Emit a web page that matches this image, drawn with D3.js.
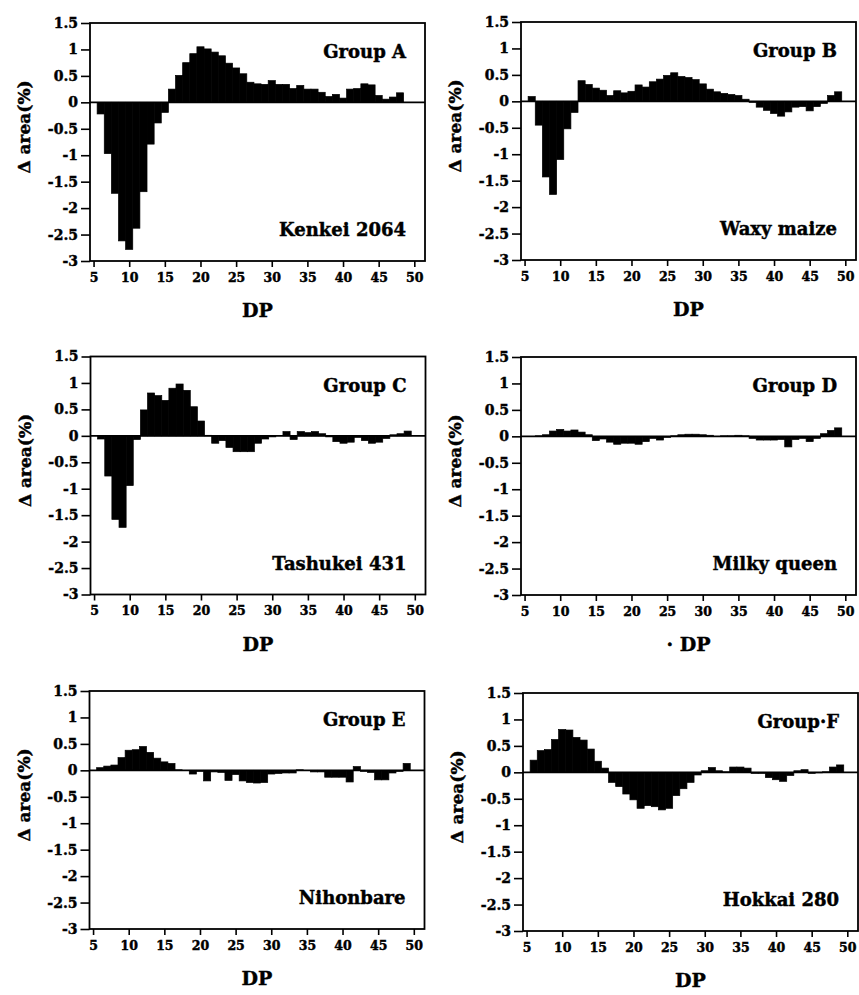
<!DOCTYPE html>
<html>
<head>
<meta charset="utf-8">
<script src="https://cdn.jsdelivr.net/npm/d3@7"></script>
<style>
  body { margin: 0; background: #fff; }
  svg text { font-family: "DejaVu Serif", serif; font-weight: bold; fill: #000; stroke: #000; stroke-width: 0.45px; }
</style>
</head>
<body>
<svg id="chart" width="859" height="995"></svg>
<script>
// DP 6..49
const dpValues = d3.range(6, 50);
const xTicks = [5, 10, 15, 20, 25, 30, 35, 40, 45, 50];
const yTicks = [1.5, 1, 0.5, 0, -0.5, -1, -1.5, -2, -2.5, -3];

const groupNames = ['Group A', 'Group B', 'Group C', 'Group D', 'Group E', 'Group·F'];
const varieties = ['Kenkei 2064', 'Waxy maize', 'Tashukei 431', 'Milky queen', 'Nihonbare', 'Hokkai 280'];
const xTitles = ['DP', 'DP', 'DP', '· DP', 'DP', 'DP'];

const groupA = [-0.22, -0.97, -1.72, -2.62, -2.78, -2.38, -1.69, -0.79, -0.39, -0.19,
  0.25, 0.51, 0.75, 0.92, 1.05, 1.01, 0.95, 0.88, 0.74, 0.65,
  0.54, 0.38, 0.35, 0.34, 0.41, 0.34, 0.34, 0.26, 0.32, 0.25,
  0.25, 0.19, 0.11, 0.15, 0.08, 0.25, 0.26, 0.35, 0.33, 0.13,
  0.06, 0.10, 0.18, null];
const groupB = [0.09, -0.45, -1.43, -1.76, -1.10, -0.52, -0.21, 0.39, 0.32, 0.25,
  0.21, 0.11, 0.20, 0.16, 0.19, 0.31, 0.27, 0.37, 0.42, 0.49,
  0.54, 0.47, 0.45, 0.41, 0.33, 0.23, 0.18, 0.15, 0.13, 0.11,
  0.04, -0.02, -0.11, -0.17, -0.23, -0.28, -0.20, -0.11, -0.10, -0.18,
  -0.10, -0.04, 0.11, 0.18];
const groupC = [-0.06, -0.76, -1.58, -1.73, -0.94, -0.07, 0.49, 0.81, 0.76, 0.67,
  0.90, 0.98, 0.86, 0.55, 0.28, 0.01, -0.14, -0.09, -0.22, -0.30,
  -0.30, -0.30, -0.14, -0.06, -0.02, 0.00, 0.08, -0.07, 0.08, 0.06,
  0.08, 0.04, -0.02, -0.11, -0.14, -0.12, -0.03, -0.09, -0.14, -0.12,
  -0.05, 0.02, 0.04, 0.09];
const groupD = [0.00, 0.01, 0.03, 0.10, 0.13, 0.10, 0.12, 0.08, 0.03, -0.08,
  -0.05, -0.11, -0.15, -0.13, -0.13, -0.15, -0.10, -0.04, -0.07, -0.02,
  0.01, 0.03, 0.04, 0.04, 0.03, 0.02, 0.00, 0.01, 0.01, 0.02,
  0.01, -0.04, -0.07, -0.07, -0.07, -0.06, -0.20, -0.06, -0.04, -0.10,
  -0.04, 0.05, 0.11, 0.16];
const groupE = [0.05, 0.08, 0.10, 0.24, 0.38, 0.39, 0.45, 0.34, 0.23, 0.16,
  0.13, 0.01, 0.00, -0.07, -0.02, -0.20, -0.03, -0.04, -0.19, -0.08,
  -0.20, -0.23, -0.24, -0.23, -0.07, -0.06, -0.05, -0.05, 0.01, 0.00,
  -0.03, -0.03, -0.13, -0.13, -0.13, -0.22, 0.07, -0.02, -0.04, -0.18,
  -0.18, -0.05, -0.02, 0.13];
const groupF = [0.23, 0.41, 0.43, 0.62, 0.81, 0.80, 0.66, 0.61, 0.44, 0.21,
  0.08, -0.19, -0.27, -0.41, -0.52, -0.68, -0.63, -0.65, -0.71, -0.68,
  -0.44, -0.31, -0.19, -0.05, 0.03, 0.09, 0.03, 0.01, 0.10, 0.10,
  0.08, -0.02, -0.02, -0.10, -0.14, -0.17, -0.06, 0.03, 0.05, -0.02,
  -0.01, 0.01, 0.10, 0.14];

const series = [groupA, groupB, groupC, groupD, groupE, groupF];

// panel frames (left, top)
const panelPos = [[90, 23], [521, 22], [90.5, 356.5], [521, 357], [89.5, 691], [523, 693]];
const w = 335, h = 238;

const svg = d3.select('#chart');

const x = d3.scaleLinear().domain([4.5, 51.5]).range([0, w]);
const y = d3.scaleLinear().domain([-3, 1.5]).range([h, 0]);

series.forEach((vals, i) => {
  const g = svg.append('g').attr('transform', `translate(${panelPos[i][0]},${panelPos[i][1]})`);

  const data = dpValues.map((d, j) => ({ dp: d, v: vals[j] })).filter(d => d.v != null);

  g.selectAll('rect.bar')
    .data(data)
    .enter()
    .append('rect')
    .attr('class', 'bar')
    .attr('x', d => x(d.dp - 0.5))
    .attr('width', d => x(d.dp + 0.5) - x(d.dp - 0.5))
    .attr('y', d => y(Math.max(0, d.v)))
    .attr('height', d => Math.abs(y(d.v) - y(0)))
    .attr('fill', '#000')
    .attr('stroke', '#000')
    .attr('stroke-width', 0.7);

  // zero line
  g.append('line')
    .attr('x1', 0).attr('x2', w)
    .attr('y1', y(0)).attr('y2', y(0))
    .attr('stroke', '#000').attr('stroke-width', 1.6);

  // frame
  g.append('rect')
    .attr('width', w).attr('height', h)
    .attr('fill', 'none').attr('stroke', '#000').attr('stroke-width', 1.8);

  const yAxis = g.append('g')
    .call(d3.axisLeft(y).tickValues(yTicks).tickSize(9).tickPadding(3).tickFormat(d => String(d)));
  yAxis.select('.domain').remove();
  yAxis.selectAll('line').attr('stroke-width', 1.6);
  yAxis.selectAll('text').style('font-size', '14px').style('font-family', '"DejaVu Serif", serif');

  const xAxis = g.append('g')
    .attr('transform', `translate(0,${h})`)
    .call(d3.axisBottom(x).tickValues(xTicks).tickSize(6).tickPadding(6));
  xAxis.select('.domain').remove();
  xAxis.selectAll('line').attr('stroke-width', 1.6);
  xAxis.selectAll('text').style('font-size', '12.5px').style('font-family', '"DejaVu Serif", serif');

  // group + variety labels
  g.append('text')
    .attr('x', w - 19).attr('y', 35)
    .attr('text-anchor', 'end')
    .style('font-size', '18px')
    .text(groupNames[i]);
  g.append('text')
    .attr('x', w - 19).attr('y', h - 25)
    .attr('text-anchor', 'end')
    .style('font-size', '18px')
    .text(varieties[i]);

  // axis titles
  g.append('text')
    .attr('x', w / 2).attr('y', h + 56)
    .attr('text-anchor', 'middle')
    .style('font-size', '19px')
    .text(xTitles[i]);
  g.append('text')
    .attr('transform', `translate(${-60},${h / 2 - 15}) rotate(-90)`)
    .attr('text-anchor', 'middle')
    .style('font-size', '17px')
    .text('Δ area(%)');
});
</script>
</body>
</html>
